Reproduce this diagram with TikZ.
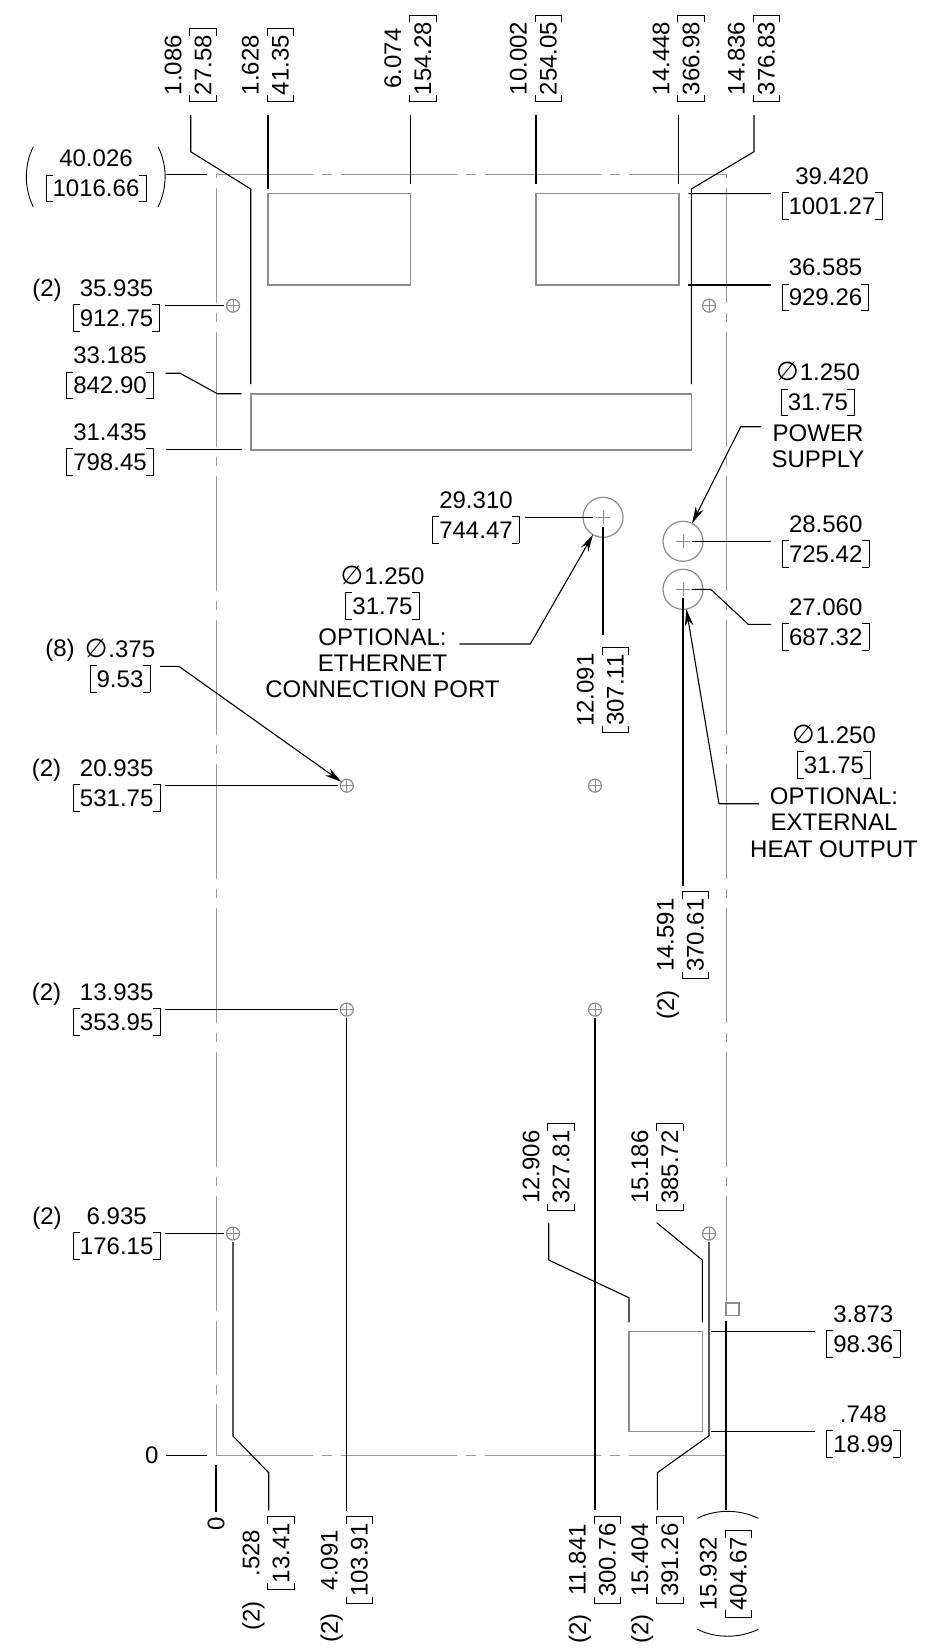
\documentclass[tikz,border=0pt]{standalone}
\usepackage{fontspec}
\setmainfont{Liberation Sans}
\newfontfamily\symfont{DejaVu Sans}
\usetikzlibrary{arrows.meta}
\usetikzlibrary{positioning}
\definecolor{partgray}{gray}{0.55}
\definecolor{framegray}{gray}{0.6}
\newcommand{\lbrk}{\makebox[7pt][l]{\rlap{\rule[21.2pt]{7pt}{.8pt}}\rlap{\rule[-5.3pt]{7pt}{.8pt}}\rule[-5.3pt]{.8pt}{27.3pt}}}
\newcommand{\rbrk}{\makebox[7pt][r]{\llap{\rule[21.2pt]{7pt}{.8pt}}\llap{\rule[-5.3pt]{7pt}{.8pt}}\rule[-5.3pt]{.8pt}{27.3pt}}}
\newcommand{\mm}[1]{\lbrk#1\rbrk}
\newcommand{\dia}{\smash{\symfont\fontsize{26}{30}\selectfont ∅}\hspace{1pt}}
\tikzset{dimlabel/.style={font=\fontsize{24}{30}\selectfont,align=center,inner sep=0pt,outer sep=0pt},
vdimlabel/.style={dimlabel,rotate=90},
note/.style={font=\fontsize{24}{26.3}\selectfont,align=center,inner sep=0pt,outer sep=0pt},
count/.style={font=\fontsize{24}{30}\selectfont,inner sep=0pt,anchor=base},
vcount/.style={count,rotate=90},
leader/.style={draw=black,line width=1.1pt},
pointer/.style={leader,-{Stealth[length=17pt,width=8.5pt]}},
framing/.style={draw=framegray,line width=1pt},
part/.style={draw=partgray,line width=1.6pt,inner sep=0pt,outer sep=0pt},
hole/.style={circle,draw=partgray,line width=1.2pt,minimum size=13pt,inner sep=0pt,outer sep=0pt,
  path picture={\draw[partgray,line width=.8pt] (path picture bounding box.north) -- (path picture bounding box.south)
  (path picture bounding box.west) -- (path picture bounding box.east);}},
port/.style={circle,draw=partgray,line width=1.2pt,minimum size=40pt,inner sep=0pt,outer sep=0pt,
  path picture={\draw[partgray,line width=1pt] ([xshift=-7pt]path picture bounding box.center) -- ([xshift=7pt]path picture bounding box.center)
  ([yshift=-7pt]path picture bounding box.center) -- ([yshift=7pt]path picture bounding box.center);}}
}
\begin{document}
\begin{tikzpicture}[x=1pt,y=-1pt]
    \useasboundingbox (0,0) rectangle (948,1648);

    \coordinate (f_nw) at (216,174.3);
    \coordinate (f_ne) at (726,174.3);
    \coordinate (f_sw) at (216,1455.3);
    \coordinate (f_se) at (726,1455.3);
    \coordinate (f_tab) at (726,1321);
    \coordinate (e_tail) at (459.4,644);
    \coordinate (p_tail) at (761,426.7);
    \coordinate (x_tail) at (759,803.7);
    \coordinate (t_15186) at (656.7,1222.7);

    \draw[framing,dash pattern=on 116pt off 9pt on 10pt off 9pt,dash phase=19pt] (f_nw) -- (f_ne);
    \draw[framing,dash pattern=on 116pt off 9pt on 10pt off 9pt,dash phase=19pt] (f_sw) -- (f_se);
    \draw[framing,dash pattern=on 115pt off 10pt on 9pt off 10pt,dash phase=130pt] (f_nw) -- (216,1312);
    \draw[framing,dash pattern=on 115pt off 10pt on 9pt off 10pt,dash phase=130pt] (f_ne) -- (726,1312);
    \draw[framing,dash pattern=on 54pt off 10pt on 10pt off 9pt] (216,1321) -- (f_sw);
    \draw[framing,dash pattern=on 54pt off 10pt on 10pt off 9pt] (f_tab) -- (f_se);
    \draw[part,line width=1.2pt] (726,1303) rectangle (739,1315.5);

    \node[part,minimum width=142.4pt,minimum height=91.3pt] (r_a) at (339.2,239.35)  {};
    \node[part,minimum width=142.7pt,minimum height=91.3pt] (r_b) at (607.35,239.35) {};
    \node[part,minimum width=440.6pt,minimum height=56pt]   (r_c) at (471,421.7)     {};
    \node[part,minimum width=73.3pt,minimum height=100pt]   (r_d) at (665.65,1381.3) {};

    \node[hole] (h_a) at (233,305.7)    {};
    \node[hole] (h_b) at (709,305.7)    {};
    \node[hole] (h_c) at (346.8,785.7)  {};
    \node[hole] (h_d) at (595,785.7)    {};
    \node[hole] (h_e) at (346.8,1009.6) {};
    \node[hole] (h_f) at (595,1009.6)   {};
    \node[hole] (h_g) at (233,1233.5)   {};
    \node[hole] (h_h) at (709,1233.5)   {};

    \node[port] (c_a) at (603,517.3) {};
    \node[port] (c_b) at (683,541.3) {};
    \node[port] (c_c) at (683,589.3) {};

    \node[vdimlabel] (d_1086)  at (190.7,65)  {1.086\\\mm{27.58}};
    \node[vdimlabel] (d_1628)  at (268,65)    {1.628\\\mm{41.35}};
    \node[vdimlabel] (d_6074)  at (410.4,58.4) {6.074\\\mm{154.28}};
    \node[vdimlabel] (d_10002) at (536,58.4)  {10.002\\\mm{254.05}};
    \node[vdimlabel] (d_14448) at (678.7,58.4) {14.448\\\mm{366.98}};
    \node[vdimlabel] (d_14836) at (754,58.4)  {14.836\\\mm{376.83}};

    \node[dimlabel] (d_40026) at (96,176.1)    {40.026\\\mm{1016.66}};
    \node[dimlabel] (d_35935) at (116.5,305.7) {35.935\\\mm{912.75}};
    \node[dimlabel] (d_33185) at (110,373.2)   {33.185\\\mm{842.90}};
    \node[dimlabel] (d_31435) at (110,449.7)   {31.435\\\mm{798.45}};
    \node[dimlabel] (d_29310) at (476,517.3)   {29.310\\\mm{744.47}};
    \node[dimlabel] (d_eth)   at (382.5,593.5) {\dia 1.250\\\mm{31.75}};
    \node[note,below=9pt of d_eth] (n_eth)     {OPTIONAL:\\ETHERNET\\CONNECTION PORT};
    \node[dimlabel] (d_375)   at (120,666.4)   {\dia .375\\\mm{9.53}};
    \node[dimlabel] (d_20935) at (116.7,785.7) {20.935\\\mm{531.75}};
    \node[dimlabel] (d_13935) at (116.7,1009.6) {13.935\\\mm{353.95}};
    \node[dimlabel] (d_6935)  at (116.7,1233.5) {6.935\\\mm{176.15}};
    \node[dimlabel] (d_zero)  at (151.7,1455.3) {0};

    \node[count] (k_a) at (47,296.7)  {(2)};
    \node[count] (k_b) at (60,656.8)  {(8)};
    \node[count] (k_c) at (46.5,776.7) {(2)};
    \node[count] (k_d) at (46.5,1000.6) {(2)};
    \node[count] (k_e) at (47,1224.3) {(2)};

    \node[dimlabel] (d_39420) at (832,193.7)    {39.420\\\mm{1001.27}};
    \node[dimlabel] (d_36585) at (825.5,285)    {36.585\\\mm{929.26}};
    \node[dimlabel] (d_pow)   at (818,390)      {\dia 1.250\\\mm{31.75}};
    \node[note,below=8.5pt of d_pow] (n_pow)    {POWER\\SUPPLY};
    \node[dimlabel] (d_28560) at (825.7,541.3)  {28.560\\\mm{725.42}};
    \node[dimlabel] (d_27060) at (825.7,624.3)  {27.060\\\mm{687.32}};
    \node[dimlabel] (d_heat)  at (834,752.7)    {\dia 1.250\\\mm{31.75}};
    \node[note,below=9pt of d_heat] (n_heat)    {OPTIONAL:\\EXTERNAL\\HEAT OUTPUT};
    \node[dimlabel] (d_3873)  at (863.3,1331.3) {3.873\\\mm{98.36}};
    \node[dimlabel] (d_748)   at (863.3,1431.3) {.748\\\mm{18.99}};

    \node[vdimlabel] (d_12091) at (603,690)    {12.091\\\mm{307.11}};
    \node[vdimlabel] (d_14591) at (683,935)    {14.591\\\mm{370.61}};
    \node[vdimlabel] (d_12906) at (548.7,1167) {12.906\\\mm{327.81}};
    \node[vdimlabel] (d_15186) at (657.3,1167) {15.186\\\mm{385.72}};
    \node[vdimlabel] (d_vzero) at (216,1524.3) {0};
    \node[vdimlabel] (d_528)   at (268.7,1553) {.528\\\mm{13.41}};
    \node[vdimlabel] (d_4091)  at (346.8,1560) {4.091\\\mm{103.91}};
    \node[vdimlabel] (d_11841) at (595,1560)   {11.841\\\mm{300.76}};
    \node[vdimlabel] (d_15404) at (657.3,1560) {15.404\\\mm{391.26}};
    \node[vdimlabel] (d_15932) at (726,1573.7) {15.932\\\mm{404.67}};

    \node[vcount] (k_f) at (674,1005)    {(2)};
    \node[vcount] (k_g) at (259.7,1616)  {(2)};
    \node[vcount] (k_h) at (337.8,1628.3) {(2)};
    \node[vcount] (k_i) at (586,1629)    {(2)};
    \node[vcount] (k_j) at (648.3,1629)  {(2)};

    \draw[leader,shorten <=13pt,shorten >=9.5pt] (d_1086.west) -- (190.7,151.7) -- (250.7,189) -- (r_c.north west);
    \draw[leader,shorten <=13pt,shorten >=4.7pt] (d_1628.west) -- (r_a.north west);
    \draw[leader,shorten <=13pt,shorten >=9.7pt] (d_6074.west) -- (r_a.north east);
    \draw[leader,shorten <=13pt,shorten >=9.7pt] (d_10002.west) -- (r_b.north west);
    \draw[leader,shorten <=13pt,shorten >=9.7pt] (d_14448.west) -- (r_b.north east);
    \draw[leader,shorten <=13pt,shorten >=9.7pt] (d_14836.west) -- (754,151.7) -- (691.3,189) -- (r_c.north east);

    \draw[leader,shorten <=19.7pt,shorten >=9.3pt] (d_40026.east |- f_nw) -- (f_nw);
    \draw[leader,shorten <=5pt,shorten >=2.5pt] (d_35935.east) -- (h_a);
    \draw[leader,shorten <=12pt,shorten >=9pt] (d_33185.east) -- (180,373.2) -- (217.3,393.7) -- (r_c.north west);
    \draw[leader,shorten <=12pt,shorten >=9pt] (d_31435.east) -- (r_c.south west);
    \draw[leader,shorten <=5pt,shorten >=10pt] (d_29310.east) -- (c_a.center);
    \draw[pointer] (e_tail) -- (530.3,644) -- (c_a);
    \draw[pointer,shorten <=5pt] (d_375.east) -- (179,666.4) -- (h_c);
    \draw[leader,shorten <=5pt,shorten >=2.5pt] (d_20935.east) -- (h_c);
    \draw[leader,shorten <=5pt,shorten >=2.5pt] (d_13935.east) -- (h_e);
    \draw[leader,shorten <=5pt,shorten >=2.5pt] (d_6935.east) -- (h_g);
    \draw[leader,shorten <=8pt,shorten >=9.3pt] (d_zero.east) -- (f_sw);

    \draw[leader,shorten <=9.6pt,shorten >=10.7pt] (r_b.north east) -- (d_39420.west);
    \draw[leader,shorten <=9.6pt,shorten >=10.7pt] (r_b.south east) -- (d_36585.west);
    \draw[pointer] (p_tail) -- (740.7,426.7) -- (c_b);
    \draw[leader,shorten <=9.3pt,shorten >=11pt] (c_b.center) -- (d_28560.west);
    \draw[leader,shorten <=8.7pt,shorten >=11pt] (c_c.center) -- (710.7,589.3) -- (748.3,624.3) -- (d_27060.west);
    \draw[pointer] (x_tail) -- (719,803.7) -- (c_c);
    \draw[leader,shorten <=8.7pt,shorten >=11.7pt] (r_d.north east) -- (d_3873.west);
    \draw[leader,shorten <=8.7pt,shorten >=11.7pt] (r_d.south east) -- (d_748.west);

    \draw[leader,shorten <=9.4pt,shorten >=12.4pt] (c_a.center) -- (d_12091.east);
    \draw[leader,shorten <=9pt,shorten >=5.3pt] (c_c.center) -- (d_14591.east);
    \draw[leader,shorten <=12.7pt,shorten >=9pt] (d_12906.west) -- (548.7,1260) -- (629,1297.7) -- (r_d.north west);
    \draw[leader,shorten >=9pt] (t_15186) -- (702.3,1260) -- (r_d.north east);
    \draw[leader,shorten <=10pt,shorten >=5.6pt] (f_sw) -- (d_vzero.east);
    \draw[leader,shorten <=2pt,shorten >=5.7pt] (h_g) -- (233,1436) -- (268.7,1472.7) -- (d_528.east);
    \draw[leader,shorten <=2pt,shorten >=5.7pt] (h_e) -- (d_4091.east);
    \draw[leader,shorten <=2pt,shorten >=6.3pt] (h_f) -- (d_11841.east);
    \draw[leader,shorten <=2pt,shorten >=6.3pt] (h_h) -- (709,1435.7) -- (657.3,1472.7) -- (d_15404.east);
    \draw[leader,shorten >=19.7pt] (f_tab) -- (d_15932.east);

    \draw[line width=.9pt] (33.3,146.7) .. controls (24,165) and (24,188) .. (33.3,207);
    \draw[line width=.9pt] (158,146.7) .. controls (167.5,165) and (167.5,188) .. (158,207);
    \draw[line width=.9pt] (697.3,1518.3) .. controls (716,1509) and (739,1509) .. (758.3,1518.3);
    \draw[line width=.9pt] (697.3,1629.3) .. controls (716,1638.5) and (739,1638.5) .. (758.3,1629.3);
\end{tikzpicture}
\end{document}
